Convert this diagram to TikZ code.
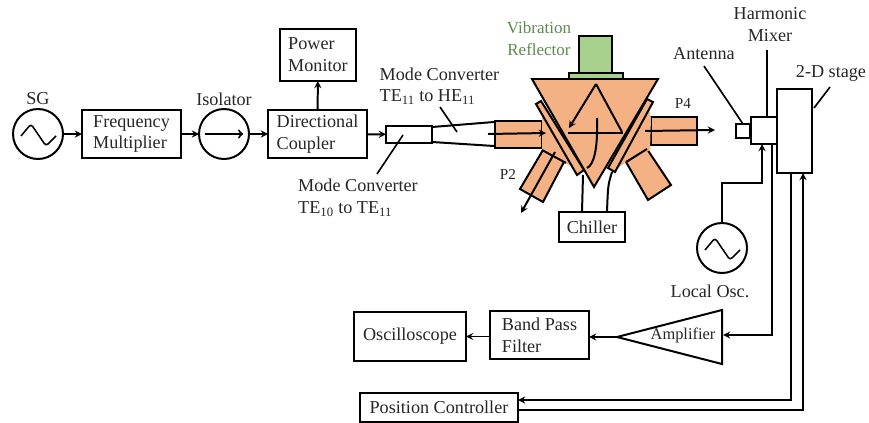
\documentclass[tikz,border=0pt]{standalone}
\usepackage{fontspec}
\setmainfont{Liberation Serif}
\definecolor{cavity}{HTML}{F4B183}
\definecolor{shaker}{HTML}{A9D18E}
\definecolor{inktext}{HTML}{262626}
\definecolor{shakertext}{HTML}{5F8A4F}
\tikzset{
    blockbox/.style={draw, align=left, inner sep=0pt, outer sep=0pt, text=inktext},
    source/.style={draw, circle, minimum size=1.5cm, inner sep=0pt, outer sep=0pt},
    tag/.style={align=center, inner sep=0pt, text=inktext},
    tagleft/.style={align=left, inner sep=0pt, text=inktext},
    leader/.style={line width=1.4pt},
    solid fill/.style={draw, fill=cavity, line width=1.7pt, line join=miter},
}
\newcommand{\sinewave}[1]{
    \draw[rounded corners=2.5pt, line width=1.3pt, shift={(#1)}]
        (-17,2) -- (-7,-10) -- (8,12) -- (18,2);
}
\begin{document}
\begin{tikzpicture}[>=stealth, x=0.03cm, y=-0.03cm, line width=1.7pt,
        font=\fontsize{15.5}{18.7}\selectfont]
    \useasboundingbox (0,0) rectangle (869,423);

    \node[source] (sg) at (38,134) {};
    \node[tag] (sglabel) at (38,99) {SG};
    \sinewave{sg}
    \node[blockbox, minimum width=2.97cm, minimum height=1.44cm] (freq) at (131.5,134) {Frequency\\Multiplier};
    \node[source] (iso) at (224,134) {};
    \node[tag] (isolabel) at (224,99) {Isolator};
    \draw[->, >=to] ([xshift=5pt]iso.west) -- ([xshift=-5pt]iso.east);
    \node[blockbox, minimum width=2.97cm, minimum height=1.44cm] (coupler) at (317.5,134) {Directional\\Coupler};
    \node[blockbox, minimum width=2.28cm, minimum height=1.56cm] (power) at (318,55) {Power\\Monitor};
    \node[blockbox, minimum width=1.38cm, minimum height=0.51cm] (conv) at (409,134.5) {};

    \draw[->] (sg) -- (freq);
    \draw[->] (freq) -- (iso);
    \draw[->] (iso) -- (coupler);
    \draw[->] (coupler) -- (power);
    \draw[->] (coupler) -- (conv);

    % taper and cavity
    \coordinate (taperin) at (432,127);
    \coordinate (taperout) at (432,142);
    \draw (taperin) -- (494,122);
    \draw (taperout) -- (494,146);
    \filldraw[solid fill] (495,121) rectangle (542,148);
    \filldraw[solid fill] (651,117) rectangle (697,145);
    \filldraw[solid fill] (543,150) -- (565,160) -- (543,202) -- (520,189) -- cycle;
    \filldraw[solid fill] (647,149) -- (671,185) -- (648,200) -- (626,162) -- cycle;
    \fill[cavity] (542,118) -- (542,150) -- (566,163) -- (580,172) -- (545,105) -- cycle;
    \fill[cavity] (651,118) -- (650,150) -- (626,162) -- (612,172) -- (648,105) -- cycle;
    \draw (542,150) -- (566,163);
    \draw (647,149) -- (626,162);
    \filldraw[solid fill] (536,104) -- (541,101) -- (584,170) -- (577,175) -- cycle;
    \filldraw[solid fill] (653,102) -- (647,99) -- (608,168) -- (615,172) -- cycle;
    \filldraw[solid fill] (532,79) -- (658,79) -- (594,187) -- cycle;
    \filldraw[draw, fill=shaker] (569,73) rectangle (623,79);
    \filldraw[draw, fill=shaker] (579,36) rectangle (612,73);

    \coordinate (rayapex) at (596,84);
    \draw[->] (rayapex) -- (569,128);
    \draw (rayapex) -- (622,132);
    \draw (568,133) -- (623,133);
    \draw (597,118) .. controls (598,148) and (594,165) .. (587,168);
    \draw[->] (488,134) -- (546,133);
    \draw[->] (555,152) -- (521,213);
    \draw[->] (645,131) -- (715,130);

    \node[tag, text=shakertext] (shakerlabel) at (539,39) {\fontsize{14.5}{18.7}\selectfont Vibration\\\fontsize{14.5}{18.7}\selectfont Reflector};
    \node[tag] (ptwo) at (508,174) {\fontsize{13}{15}\selectfont P2};
    \node[tag] (pfour) at (683,103) {\fontsize{13}{15}\selectfont P4};
    \node[blockbox, minimum width=1.98cm, minimum height=0.9cm] (chiller) at (592,227) {Chiller};
    \draw (583,175) -- (582,212);
    \draw (612,172) .. controls (608,185) .. (607,212);

    % receiver side
    \node[blockbox, minimum width=0.42cm, minimum height=0.42cm] (antenna) at (743,131) {};
    \node[blockbox, minimum width=0.78cm, minimum height=0.81cm] (mixer) at (764,130.5) {};
    \node[blockbox, minimum width=1.05cm, minimum height=2.52cm] (stage) at (794.5,131) {};
    \node[tag] (antlabel) at (704,54) {Antenna};
    \node[tag] (mixlabel) at (770,25) {Harmonic\\Mixer};
    \node[tag] (stagelabel) at (831,73) {2-D stage};
    \node[source] (lo) at (722,248) {};
    \node[tag] (lolabel) at (710,291) {Local Osc.};
    \sinewave{lo}

    \coordinate (amptip) at (617,337);
    \draw (amptip) -- (722,310) -- (722,364) -- cycle;
    \node[tag] (amp) at (683,335) {\fontsize{14}{16}\selectfont Amplifier};
    \node[blockbox, minimum width=2.97cm, minimum height=1.44cm] (bpf) at (539.5,335) {Band Pass\\Filter};
    \node[blockbox, minimum width=3.36cm, minimum height=1.47cm] (scope) at (410,336.5) {Oscilloscope};
    \node[blockbox, minimum width=4.74cm, minimum height=0.87cm] (position) at (439,407.5) {Position Controller};

    \coordinate (ampin) at (723,335);
    \coordinate (mixerin) at (762,144);
    \coordinate (mixerout) at (772,144);
    \coordinate (stageout) at (791,173);
    \coordinate (stagein) at (803,173);
    \coordinate (posout) at (518,400);
    \coordinate (posin) at (518,410);
    \draw[->] (lo.north) |- (762,183) -- (mixerin);
    \draw[->] (mixerout) |- (ampin);
    \draw[->] (amptip) -- (bpf.east |- amptip);
    \draw[->] (bpf.west |- scope) -- (scope);
    \draw[->] (stageout) |- (posout);
    \draw[->] (posin) -| (stagein);

    % leaders
    \draw[leader] (antlabel.south) ++(0,5) -- (antenna.north);
    \draw[leader] (767,50) -- (mixer.north -| 767,0);
    \draw[leader] (830,87) -- (814,108);
    \node[tagleft] (tophe) at (439.5,86) {Mode Converter\\TE\textsubscript{11} to HE\textsubscript{11}};
    \node[tagleft] (topte) at (358,198) {Mode Converter\\TE\textsubscript{10} to TE\textsubscript{11}};
    \draw[leader] (440,107) -- (457,132);
    \draw[leader] (377,174) -- (403,135);
\end{tikzpicture}
\end{document}
